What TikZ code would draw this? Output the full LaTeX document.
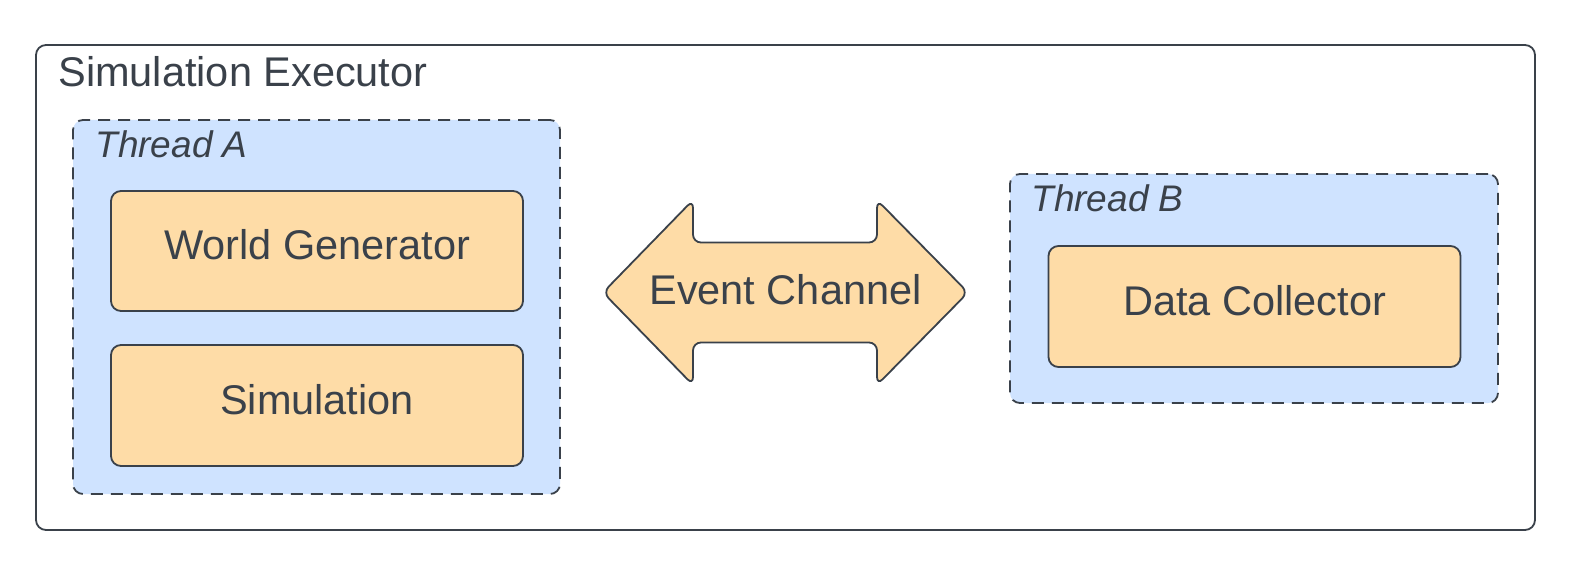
\documentclass[tikz,border=0pt]{standalone}
\usepackage{fontspec}
\setmainfont{Liberation Sans}
\usetikzlibrary{positioning}
\definecolor{ink}{HTML}{3A414A}
\definecolor{boxfill}{HTML}{FEDCA7}
\definecolor{threadfill}{HTML}{CFE3FF}
\tikzset{
  executor/.style={draw=ink, line width=0.9pt, rounded corners=5pt, inner sep=0pt},
  thread/.style={draw=ink, fill=threadfill, line width=0.9pt, dash pattern=on 6pt off 4pt, rounded corners=5pt, inner sep=0pt},
  component/.style={draw=ink, fill=boxfill, line width=0.9pt, rounded corners=5pt, minimum width=206pt, minimum height=60pt, text depth=6.5pt, text=ink, font=\fontsize{20.75}{24}\selectfont},
  channelarrow/.style={draw=ink, fill=boxfill, line width=0.9pt, rounded corners=4pt},
  title/.style={anchor=base west, inner sep=0pt, text=ink, font=\fontsize{20.75}{24}\selectfont},
  threadlabel/.style={anchor=base west, inner sep=0pt, text=ink, font=\fontsize{18.5}{22}\selectfont\itshape},
}
\begin{document}
\begin{tikzpicture}[x=0.5pt,y=-0.5pt]
      \useasboundingbox (0,0) rectangle (1575,583);
      %% Containers
      \node[executor, minimum width=749.5pt, minimum height=242.5pt] (exec) at (785.5,287.5) {};
      \node[title] (execlabel) at (58,87) {Simulation Executor};
      \node[thread, minimum width=243.5pt, minimum height=187pt] (threada) at (316.5,307) {};
      \node[threadlabel] (threadalabel) at (95,158) {Thread A};
      \node[thread, minimum width=244pt, minimum height=114.5pt] (threadb) at (1254,288.5) {};
      \node[threadlabel] (threadblabel) at (1031,212) {Thread B};
      %% Components
      \node[component] (worldgen) at (317,251) {World Generator};
      \node[component, minimum height=60.5pt] (sim) at (317,405.5) {Simulation};
      \node[component, minimum height=60.5pt] (collector) at (1254.5,306.5) {Data Collector};
      %% Event channel
      \draw[channelarrow] (785.5,242.5) -- (877,242.5) -- (877,200) -- (968,292.5)
        -- (877,385) -- (877,342.5) -- (693,342.5) -- (693,385) -- (603,292.5)
        -- (693,200) -- (693,242.5) -- cycle;
      \node[text=ink, font=\fontsize{20.75}{24}\selectfont] (channel) at (785.5,289.5) {Event Channel};
    \end{tikzpicture}
\end{document}
